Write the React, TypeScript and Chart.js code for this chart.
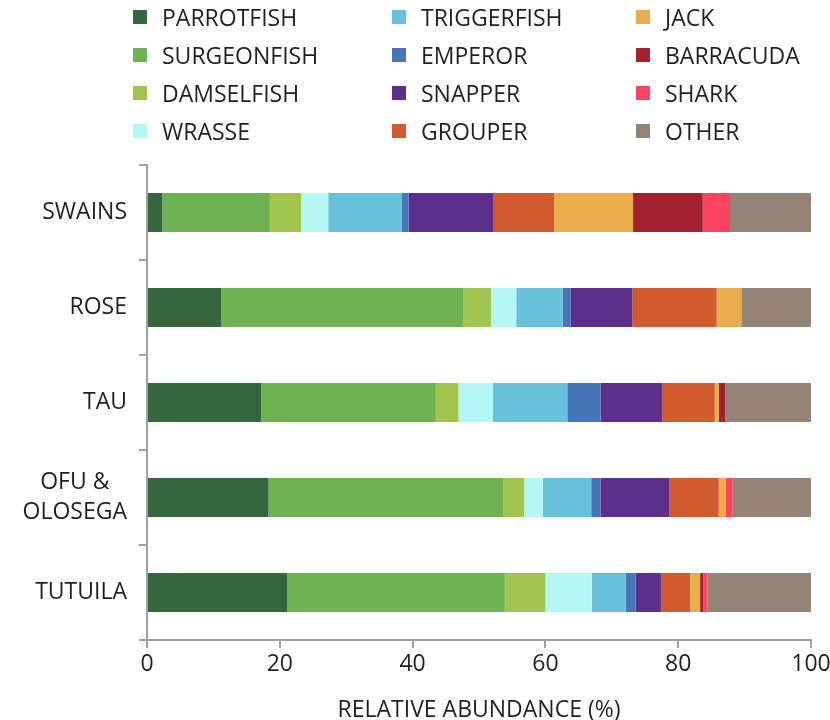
import React, { useEffect, useRef } from "react";
import { Chart, registerables } from "chart.js";

Chart.register(...registerables);

const categories: string[][] = [["SWAINS"], ["ROSE"], ["TAU"], ["OFU &", "OLOSEGA"], ["TUTUILA"]];
const seriesNames = [
  "PARROTFISH", "SURGEONFISH", "DAMSELFISH", "WRASSE",
  "TRIGGERFISH", "EMPEROR", "SNAPPER", "GROUPER",
  "JACK", "BARRACUDA", "SHARK", "OTHER",
];
const seriesColors = [
  "#35663D", "#6FB253", "#A1C44E", "#B4F7F3",
  "#67C1DB", "#4676B7", "#5B2F8A", "#D25A2F",
  "#E9AE4B", "#A32130", "#FE4360", "#948476",
];
const parrotfish = [2.3, 11.2, 17.2, 18.3, 21.1];
const surgeonfish = [16.2, 36.4, 26.3, 35.4, 32.8];
const damselfish = [4.7, 4.2, 3.4, 3.1, 6.1];
const wrasse = [4.1, 3.8, 5.2, 2.8, 7.0];
const triggerfish = [11.1, 7.0, 11.2, 7.3, 5.1];
const emperor = [1.0, 1.2, 5.0, 1.4, 1.5];
const snapper = [12.8, 9.3, 9.3, 10.4, 3.8];
const grouper = [9.1, 12.7, 7.9, 7.4, 4.4];
const jack = [11.9, 3.7, 0.6, 1.1, 1.5];
const barracuda = [10.5, 0, 1.0, 0, 0.5];
const shark = [4.1, 0, 0, 1.0, 0.6];
const other = [12.2, 10.5, 12.9, 11.8, 15.6];
const seriesValues = [
  parrotfish, surgeonfish, damselfish, wrasse,
  triggerfish, emperor, snapper, grouper,
  jack, barracuda, shark, other,
];
const xTicks = [0, 20, 40, 60, 80, 100];

const FONT = "'Open Sans', 'Noto Sans', sans-serif";
const TEXT = "#231f20";
const AXIS = "#a0a0a0";

const yLabelPlugin = {
  id: "yLabels",
  afterDraw(chart: any) {
    const ctx = chart.ctx;
    const y = chart.scales.y;
    ctx.save();
    ctx.font = `23px ${FONT}`;
    ctx.fillStyle = TEXT;
    ctx.textAlign = "center";
    ctx.textBaseline = "middle";
    const right = 127;
    const lh = 30;
    categories.forEach((lines, i) => {
      const cy = y.getPixelForValue(i);
      const w = Math.max(...lines.map((l) => ctx.measureText(l).width));
      const cx = right - w / 2;
      lines.forEach((l, j) => {
        ctx.fillText(l, cx, cy + (j - (lines.length - 1) / 2) * lh);
      });
    });
    ctx.restore();
  },
};

export default function App() {
  const ref = useRef<HTMLCanvasElement | null>(null);

  useEffect(() => {
    if (!ref.current) return;
    const chart = new Chart(ref.current, {
      type: "bar",
      data: {
        labels: categories.map((c) => c.join(" ")),
        datasets: seriesNames.map((name, i) => ({
          label: name,
          data: seriesValues[i],
          backgroundColor: seriesColors[i],
          borderWidth: 0,
          barPercentage: 0.41,
          categoryPercentage: 1,
        })),
      },
      options: {
        indexAxis: "y",
        animation: false,
        responsive: false,
        maintainAspectRatio: false,
        layout: { padding: { top: 165, left: 0, right: 19, bottom: 0 } },
        plugins: {
          legend: { display: false },
          tooltip: { enabled: false },
          title: { display: false },
        },
        scales: {
          x: {
            stacked: true,
            min: 0,
            max: 100,
            afterBuildTicks: (scale: any) => {
              scale.ticks = xTicks.map((v) => ({ value: v }));
            },
            afterFit: (scale: any) => {
              scale.height = 80;
              scale.paddingLeft = 0;
              scale.paddingRight = 0;
            },
            ticks: {
              font: { family: FONT, size: 23 },
              color: TEXT,
              padding: 3,
              maxRotation: 0,
            },
            grid: {
              drawOnChartArea: false,
              drawTicks: true,
              tickLength: 8,
              color: AXIS,
              lineWidth: 2,
            },
            border: { display: true, color: AXIS, width: 2 },
            title: {
              display: true,
              text: "RELATIVE ABUNDANCE (%)",
              font: { family: FONT, size: 23, lineHeight: 1.0 },
              color: TEXT,
              padding: { top: 0, bottom: -2 },
            },
          },
          y: {
            stacked: true,
            afterFit: (scale: any) => {
              scale.width = 147;
              scale.paddingTop = 0;
              scale.paddingBottom = 0;
            },
            ticks: { display: false },
            grid: {
              offset: true,
              drawOnChartArea: false,
              drawTicks: true,
              tickLength: 8,
              color: AXIS,
              lineWidth: 2,
            },
            border: { display: true, color: AXIS, width: 2 },
          },
        },
      },
      plugins: [yLabelPlugin],
    } as any);
    return () => chart.destroy();
  }, []);

  const colLeft = [133, 392, 636];
  const rowCenter = [17, 55, 93, 131];

  return (
    <div style={{ position: "absolute", left: 0, top: 0, width: 830, height: 720, background: "#fff" }}>
      <canvas ref={ref} width={830} height={720} style={{ position: "absolute", left: 0, top: 0, width: 830, height: 720 }} />
      {seriesNames.map((name, i) => {
        const col = Math.floor(i / 4);
        const row = i % 4;
        return (
          <div
            key={name}
            style={{
              position: "absolute",
              left: colLeft[col],
              top: rowCenter[row] - 15,
              height: 30,
              display: "flex",
              alignItems: "center",
              fontFamily: FONT,
              fontSize: 23,
              color: TEXT,
              whiteSpace: "nowrap",
            }}
          >
            <span style={{ display: "inline-block", width: 14, height: 14, background: seriesColors[i], marginRight: 15 }} />
            <span>{name}</span>
          </div>
        );
      })}
    </div>
  );
}
